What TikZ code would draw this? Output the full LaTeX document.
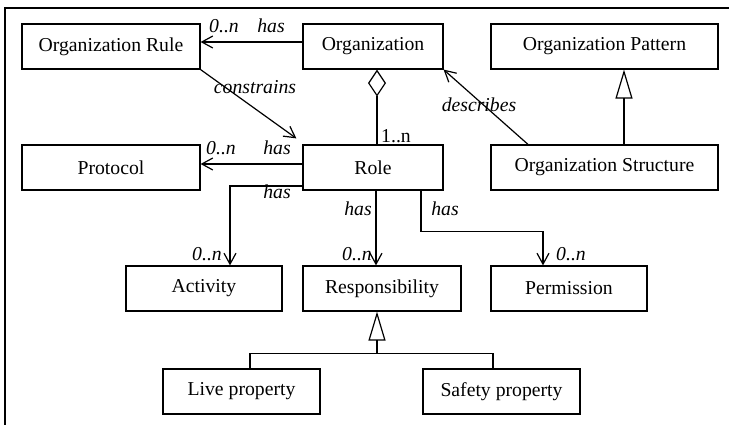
\documentclass[tikz,border=0pt]{standalone}
\usepackage{fontspec}
\setmainfont{Liberation Serif}
\usetikzlibrary{arrows.meta,calc}
\begin{document}
\begin{tikzpicture}[x=1pt,y=-1pt,
  txt/.style={font=\fontsize{19.7}{22}\selectfont},
  box/.style={txt,draw,line width=1.2pt,minimum height=45pt,inner sep=0pt},
  lbl/.style={txt,anchor=base,inner sep=0pt,font=\fontsize{19.7}{22}\selectfont\itshape},
  mult/.style={txt,anchor=base,inner sep=0pt},
  conn/.style={line width=1.2pt},
  assoc/.style={conn,-{Straight Barb[length=11pt,width=12pt,line width=1.2pt]}},
  aggr/.style={conn,-{Diamond[open,length=27pt,width=18pt,line width=1.2pt]}},
  gen/.style={conn,-{Triangle[open,length=29pt,width=17pt,line width=1.2pt]}}]
\useasboundingbox (0,0) rectangle (729,425);
\clip (0,0) rectangle (729,425);
% outer frame
\draw[line width=1.6pt] (5,440) -- (5,8) -- (740,8);

% classes
\node[box,minimum width=178pt] (orgrule)   at (111,46.5)   {Organization Rule};
\node[box,minimum width=140pt] (org)       at (373,46.5)   {Organization};
\node[box,minimum width=227pt] (pattern)   at (604.5,46.5) {Organization Pattern};
\node[box,minimum width=178pt] (protocol)  at (111,167.5)  {Protocol};
\node[box,minimum width=140pt] (role)      at (373,167.5)  {Role};
\node[box,minimum width=227pt] (structure) at (604.5,167.5){Organization Structure};
\node[box,minimum width=156pt] (activity)  at (204,288.5)  {Activity};
\node[box,minimum width=158pt] (resp)      at (382,288.5)  {Responsibility};
\node[box,minimum width=156pt] (permission) at (569,288.5) {Permission};
\node[box,minimum width=157pt] (live)      at (241.5,391.5){Live property};
\node[box,minimum width=157pt] (safety)    at (501.5,391.5){Safety property};

% Organization has Organization Rule
\draw[assoc] ([yshift=4.5pt]org.west) -- ([yshift=4.5pt]orgrule.east);
\node[lbl] (m1) at (224,33) {0..n};
\node[lbl] (h1) at (271,33) {has};

% Organization Rule constrains Role
\coordinate (ctip) at ([xshift=-6pt,yshift=6pt]role.north west);
\draw[assoc] (orgrule.south east) -- (ctip);
\node[lbl] (cons) at (255,94) {constrains};

% Organization aggregates Role
\draw[aggr] ([xshift=4pt]role.north) -- ([xshift=4pt]org.south);
\node[mult] (m2) at (396,143) {1..n};

% Organization Structure describes Organization
\draw[assoc] ([xshift=-76.5pt]structure.north) -- (org.south east);
\node[lbl] (desc) at (479,112) {describes};

% Organization Structure specialises Organization Pattern
\draw[gen] ([xshift=19.5pt]structure.north) -- ([xshift=19.5pt]pattern.south);

% Role has Protocol
\draw[assoc] ([yshift=3.5pt]role.west) -- ([yshift=3.5pt]protocol.east);
\node[lbl] (m3) at (221,155) {0..n};
\node[lbl] (h3) at (277,155) {has};

% Role has Activity
\draw[assoc] ([yshift=-18.5pt]role.west) -| ([xshift=26pt]activity.north);
\node[lbl] (h4) at (277,199) {has};
\node[lbl] (m4) at (207,261) {0..n};

% Role has Responsibility
\draw[assoc] ([xshift=3pt]role.south) -- ([xshift=3pt]role.south |- resp.north);
\node[lbl] (h5) at (358,215) {has};
\node[lbl] (m5) at (357,261) {0..n};

% Role has Permission
\draw[assoc] ([xshift=48pt]role.south) -- ++(0,41) -| ([xshift=-26pt]permission.north);
\node[lbl] (h6) at (445,215) {has};
\node[lbl] (m6) at (571,261) {0..n};

% Live / Safety property specialise Responsibility
\coordinate (bar) at ($(resp.south)+(-5,42)$);
\draw[conn] ([xshift=8.5pt]live.north) |- (bar) -| ([xshift=-8.5pt]safety.north);
\draw[gen] (bar) -- (bar |- resp.south);
\end{tikzpicture}
\end{document}
